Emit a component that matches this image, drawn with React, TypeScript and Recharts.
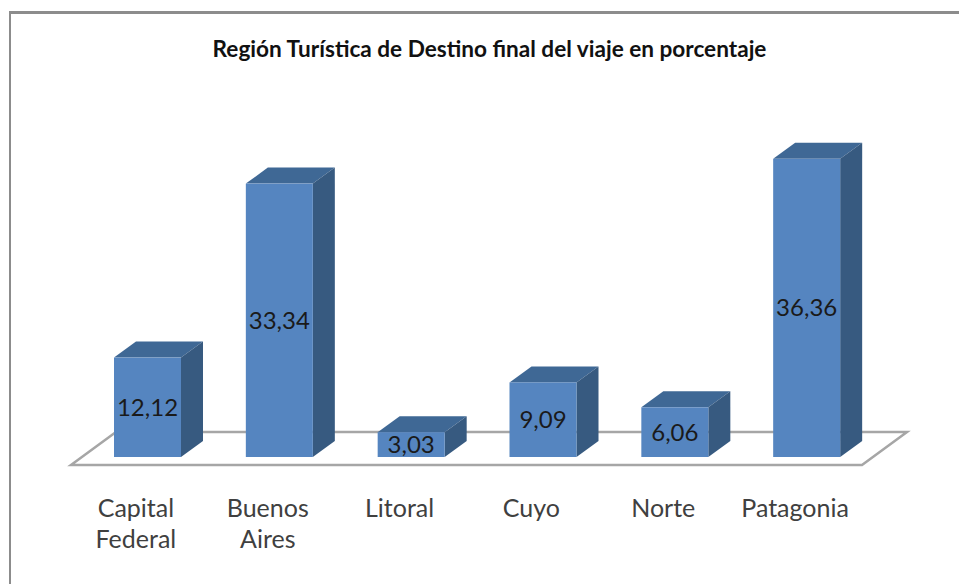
import { BarChart, Bar, XAxis, YAxis, LabelList, usePlotArea } from "recharts";

const regions = ["Capital Federal", "Buenos Aires", "Litoral", "Cuyo", "Norte", "Patagonia"];
const labelLines = [["Capital", "Federal"], ["Buenos", "Aires"], ["Litoral"], ["Cuyo"], ["Norte"], ["Patagonia"]];
const shares = [12.12, 33.34, 3.03, 9.09, 6.06, 36.36];

const data = regions.map((region, i) => ({ region, share: shares[i], lines: labelLines[i] }));

const FONT = "Lato, 'Open Sans', sans-serif";
const DEPTH_X = 22;
const DEPTH_Y = 16;

// front face plus the two faked 3D faces
function Bar3D({ x, y, width, height }: any) {
  const r = x + width;
  const b = y + height;
  return (
    <g>
      <polygon
        points={`${x},${y} ${x + DEPTH_X},${y - DEPTH_Y} ${r + DEPTH_X},${y - DEPTH_Y} ${r},${y}`}
        fill="#3f6895"
      />
      <polygon
        points={`${r},${y} ${r + DEPTH_X},${y - DEPTH_Y} ${r + DEPTH_X},${b - DEPTH_Y} ${r},${b}`}
        fill="#375a80"
      />
      <rect x={x} y={y} width={width} height={height} fill="#5585c0" />
    </g>
  );
}

function Floor() {
  const plot = usePlotArea();
  if (!plot) return null;
  const front = plot.y + plot.height + 8;
  const back = front - 33;
  const left = plot.x - 11;
  const right = plot.x + plot.width - 11;
  return (
    <polygon
      points={`${left},${front} ${right},${front} ${right + 45},${back} ${left + 45},${back}`}
      fill="#fff"
      stroke="#a6a6a6"
      strokeWidth={2.5}
    />
  );
}

function RegionTick({ x, y, payload, index }: any) {
  const lines = data[index]?.lines ?? [payload.value];
  return (
    <text x={x - 12} y={y} textAnchor="middle" fontFamily={FONT} fontSize={25} fill="#404040">
      {lines.map((line: string, i: number) => (
        <tspan key={line} x={x - 12} dy={i === 0 ? 0 : 31}>
          {line}
        </tspan>
      ))}
    </text>
  );
}

export default function App() {
  return (
    <div style={{ position: "absolute", left: 0, top: 0, width: 959, height: 584, background: "#fff" }}>
      <div
        style={{
          position: "absolute",
          left: 9,
          top: 11,
          width: 950,
          height: 573,
          borderLeft: "2.5px solid #8c8c8c",
          borderTop: "3px solid #8c8c8c",
          boxSizing: "border-box",
        }}
      />
      <div style={{ position: "absolute", left: 0, top: 0 }}>
        <BarChart
          width={959}
          height={584}
          data={data}
          margin={{ top: 129, right: 86, bottom: 0, left: 82 }}
        >
          <text
            x={489.5}
            y={57}
            textAnchor="middle"
            fontFamily={FONT}
            fontSize={22.6}
            fontWeight={700}
            fill="#111"
          >
            Región Turística de Destino final del viaje en porcentaje
          </text>
          <Floor />
          <XAxis
            dataKey="region"
            interval={0}
            axisLine={false}
            tickLine={false}
            height={127}
            tickMargin={54}
            tick={<RegionTick />}
          />
          <YAxis hide domain={[0, 40]} />
          <Bar dataKey="share" barSize={67} shape={<Bar3D />} isAnimationActive={false}>
            <LabelList
              dataKey="share"
              position="center"
              formatter={(v: any) => Number(v).toFixed(2).replace(".", ",")}
              style={{ fontFamily: FONT, fontSize: 24, fill: "#1a1a1a" }}
            />
          </Bar>
        </BarChart>
      </div>
    </div>
  );
}
